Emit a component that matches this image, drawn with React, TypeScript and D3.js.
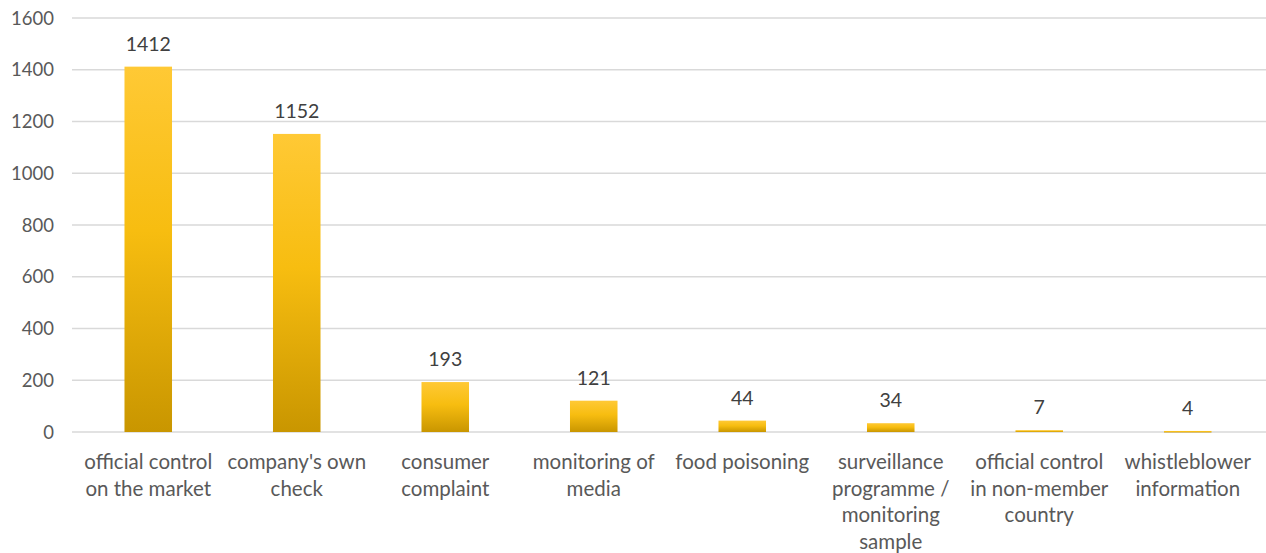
import { useEffect, useRef } from "react";
import * as d3 from "d3";

const categories = [
  ["official control", "on the market"],
  ["company's own", "check"],
  ["consumer", "complaint"],
  ["monitoring of", "media"],
  ["food poisoning"],
  ["surveillance", "programme /", "monitoring", "sample"],
  ["official control", "in non-member", "country"],
  ["whistleblower", "information"],
];
const values = [1412, 1152, 193, 121, 44, 34, 7, 4];
const yTicks = [0, 200, 400, 600, 800, 1000, 1200, 1400, 1600];

export default function App() {
  const ref = useRef<SVGSVGElement | null>(null);

  useEffect(() => {
    document.body.style.margin = "0";
    const svgEl = ref.current;
    if (!svgEl) return;
    const svg = d3.select(svgEl);
    svg.selectAll("*").remove();

    const width = 1266;
    const height = 553;
    const marginLeft = 74;
    const marginRight = 4;
    const top = 18;
    const bottom = 432;
    const font = "Lato, 'Open Sans', sans-serif";

    const keys = categories.map((_, i) => String(i));
    const x = d3.scaleBand<string>().domain(keys).range([marginLeft, width - marginRight]).paddingInner(0.68).paddingOuter(0.34);
    const y = d3.scaleLinear().domain([0, 1600]).range([bottom, top]);

    const defs = svg.append("defs");
    const grad = defs
      .append("linearGradient")
      .attr("id", "barGrad")
      .attr("x1", 0)
      .attr("y1", 0)
      .attr("x2", 0)
      .attr("y2", 1);
    grad.append("stop").attr("offset", "0%").attr("stop-color", "#ffc935");
    grad.append("stop").attr("offset", "45%").attr("stop-color", "#f7bd10");
    grad.append("stop").attr("offset", "100%").attr("stop-color", "#c99600");

    // gridlines
    svg
      .append("g")
      .selectAll("line")
      .data(yTicks)
      .join("line")
      .attr("x1", 72)
      .attr("x2", width)
      .attr("y1", (d) => y(d))
      .attr("y2", (d) => y(d))
      .attr("stroke", "#d9d9d9")
      .attr("stroke-width", 1.3);

    // y tick labels
    svg
      .append("g")
      .selectAll("text")
      .data(yTicks)
      .join("text")
      .attr("x", 54)
      .attr("y", (d) => y(d) + 6.5)
      .attr("text-anchor", "end")
      .attr("font-family", font)
      .attr("font-size", 18.5)
      .attr("fill", "#595959")
      .text((d) => String(d));

    // bars
    svg
      .append("g")
      .selectAll("rect")
      .data(values)
      .join("rect")
      .attr("x", (_, i) => x(String(i)) ?? 0)
      .attr("y", (d) => y(d))
      .attr("width", x.bandwidth())
      .attr("height", (d) => Math.max(1.5, y(0) - y(d)))
      .attr("fill", "url(#barGrad)");

    // value labels
    svg
      .append("g")
      .selectAll("text")
      .data(values)
      .join("text")
      .attr("x", (_, i) => (x(String(i)) ?? 0) + x.bandwidth() / 2)
      .attr("y", (d) => y(d) - 16)
      .attr("text-anchor", "middle")
      .attr("font-family", font)
      .attr("font-size", 19.5)
      .attr("fill", "#404040")
      .text((d) => String(d));

    // category labels
    const catG = svg.append("g");
    categories.forEach((lines, i) => {
      const cx = (x(String(i)) ?? 0) + x.bandwidth() / 2;
      const t = catG
        .append("text")
        .attr("text-anchor", "middle")
        .attr("font-family", font)
        .attr("font-size", 20.5)
        .attr("fill", "#595959");
      lines.forEach((line, j) => {
        t.append("tspan")
          .attr("x", cx)
          .attr("y", 469 + j * 26.7)
          .text(line);
      });
    });
  }, []);

  return <svg ref={ref} width={1266} height={553} style={{ display: "block", background: "#fff" }} />;
}
